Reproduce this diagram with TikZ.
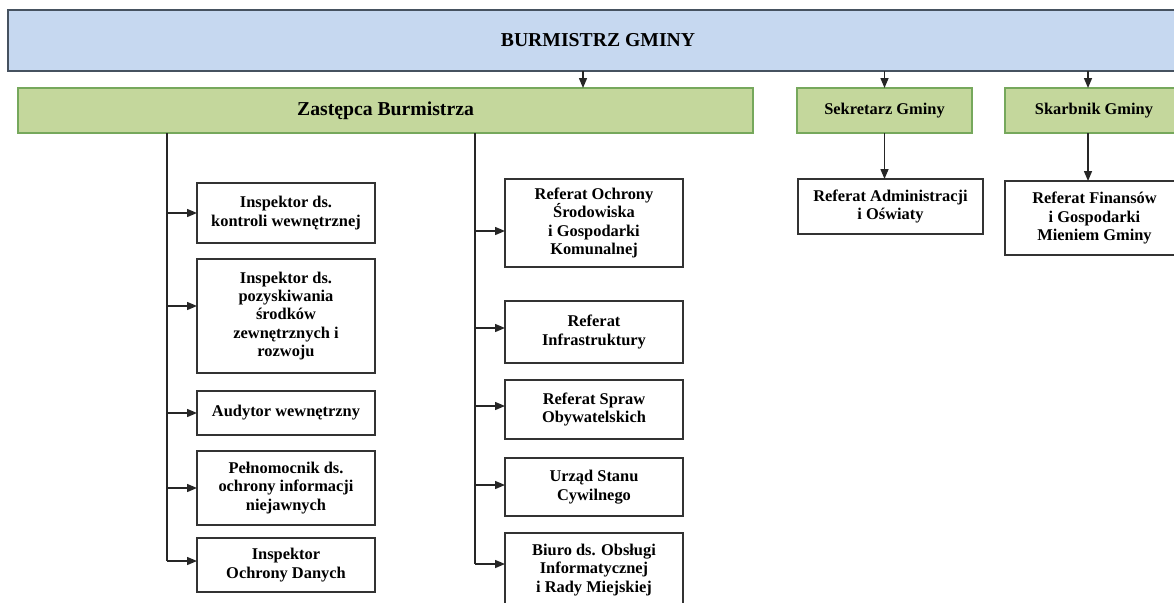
\documentclass[tikz,border=0pt]{standalone}
\usepackage{fontspec}
\setmainfont{Liberation Serif}
\usetikzlibrary{arrows.meta}
\definecolor{topblue}{RGB}{198,216,240}
\definecolor{topedge}{RGB}{70,82,96}
\definecolor{unitgreen}{RGB}{196,215,156}
\definecolor{unitedge}{RGB}{118,168,92}
\begin{document}
\begin{tikzpicture}[x=1pt,y=-1pt,
 block/.style = {
    rectangle,
    draw=black!80,
    line width=1.5pt,
    fill=white,
    align=center,
    inner sep=0pt, outer sep=0pt,
    font=\fontsize{16.4}{18.3}\selectfont\bfseries},
 head/.style = {block, draw=topedge, fill=topblue,
    font=\fontsize{19.7}{22}\selectfont\bfseries},
 unit/.style = {block, draw=unitedge, fill=unitgreen},
 link/.style = {line width=1.4pt, black!85},
 arr/.style = {link, -{Triangle[length=10pt,width=8pt]}}
 ]
\clip (0,0) rectangle (1174,602);
\fill[white] (0,0) rectangle (1174,602);

% top level
\node(burm)[head, minimum width=1180, minimum height=61] at (598,40.5) {BURMISTRZ GMINY};
\node(zast)[unit, minimum width=735, minimum height=45] at (385.5,110.5)
  {\fontsize{19.7}{22}\selectfont Zastępca Burmistrza};
\node(sekr)[unit, minimum width=175, minimum height=45] at (884.5,110.5) {Sekretarz Gminy};
\node(skarb)[unit, minimum width=178, minimum height=45] at (1094,110.5) {Skarbnik Gminy};

\coordinate (zin) at (583,88);
\coordinate (skin) at ([xshift=-6pt]skarb.north);
\draw[arr] (burm.south -| zin) -- (zin);
\draw[arr] (burm.south -| sekr.north) -- (sekr.north);
\draw[arr] (burm.south -| skin) -- (skin);

% left column
\node(k1)[block, minimum width=178, minimum height=60] at (286,213) {Inspektor ds.\\kontroli wewnętrznej};
\node(k2)[block, minimum width=178, minimum height=114] at (286,316)
  {Inspektor ds.\\pozyskiwania\\środków\\zewnętrznych i\\rozwoju};
\node(k3)[block, minimum width=178, minimum height=44] at (286,413) {Audytor wewnętrzny};
\node(k4)[block, minimum width=178, minimum height=74] at (286,488)
  {Pełnomocnik ds.\\ochrony informacji\\niejawnych};
\node(k5)[block, minimum width=178, minimum height=54] at (286,565) {Inspektor\\Ochrony Danych};

\coordinate (lft) at (167,133);
\coordinate (k2in) at ([yshift=10pt]k2.west);
\coordinate (k5in) at ([yshift=4pt]k5.west);
\draw[link] (lft) -- (lft |- k5in);
\draw[arr] (lft |- k1.west) -- (k1.west);
\draw[arr] (lft |- k2in) -- (k2in);
\draw[arr] (lft |- k3.west) -- (k3.west);
\draw[arr] (lft |- k4.west) -- (k4.west);
\draw[arr] (lft |- k5in) -- (k5in);

% middle column
\node(m1)[block, minimum width=178, minimum height=88] at (594,223)
  {Referat Ochrony\\Środowiska\\i Gospodarki\\Komunalnej};
\node(m2)[block, minimum width=178, minimum height=62] at (594,332) {Referat\\Infrastruktury};
\node(m3)[block, minimum width=178, minimum height=59] at (594,409.5) {Referat Spraw\\Obywatelskich};
\node(m4)[block, minimum width=178, minimum height=58] at (594,487) {Urząd Stanu\\Cywilnego};
\node(m5)[block, minimum width=178, minimum height=74] at (594,570)
  {Biuro ds. Obsługi\\Informatycznej\\i Rady Miejskiej};

\coordinate (mid) at (475,133);
\coordinate (m1in) at ([yshift=-8pt]m1.west);
\coordinate (m2in) at ([yshift=4pt]m2.west);
\coordinate (m3in) at ([yshift=3.5pt]m3.west);
\coordinate (m4in) at ([yshift=2pt]m4.west);
\coordinate (m5in) at ([yshift=6pt]m5.west);
\draw[link] (mid) -- (mid |- m5in);
\foreach \m in {m1in,m2in,m3in,m4in,m5in}
  \draw[arr] (mid |- \m) -- (\m);

% right side
\node(adm)[block, minimum width=185, minimum height=55] at (890.5,206.5)
  {Referat Administracji\\i Oświaty};
\node(fin)[block, minimum width=179, minimum height=74] at (1094.5,218)
  {Referat Finansów\\i Gospodarki\\Mieniem Gminy};

\draw[arr] (sekr.south) -- (sekr.south |- adm.north);
\draw[arr] (skin |- skarb.south) -- (skin |- fin.north);

\end{tikzpicture}
\end{document}
